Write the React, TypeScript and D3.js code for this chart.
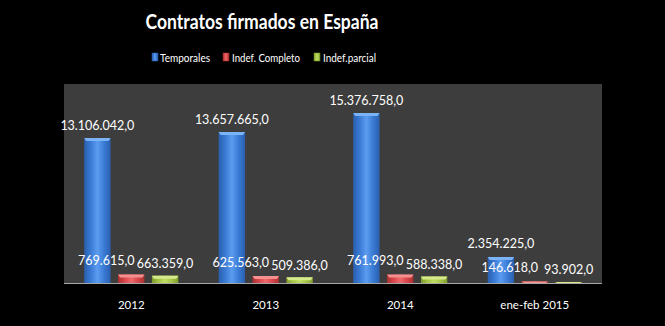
import React from "react";
import * as d3 from "d3";

const categories = ["2012", "2013", "2014", "ene-feb 2015"];
const seriesNames = ["Temporales", "Indef. Completo", "Indef.parcial"];
const temporales = [13106042, 13657665, 15376758, 2354225];
const indefCompleto = [769615, 625563, 761993, 146618];
const indefParcial = [663359, 509386, 588338, 93902];
const seriesValues = [temporales, indefCompleto, indefParcial];

const colors = [
  { base: "#3a7bd5", light: "#5c9cf0", dark: "#2a5fae", top: "#7ab4f7" },
  { base: "#d9474b", light: "#ee6a6c", dark: "#a8302f", top: "#f4908f" },
  { base: "#a5c645", light: "#c1dd64", dark: "#7e9a2c", top: "#d6ea8c" },
];

const W = 665;
const H = 326;
const plot = { left: 64, right: 602, top: 84, bottom: 283 };

const locale = d3.formatLocale({ decimal: ",", thousands: ".", grouping: [3], currency: ["", "€"] });
const fmt = locale.format(",.1f");

const FONT = "Lato, 'Liberation Sans', sans-serif";

export default function App() {
  const x0 = d3
    .scaleBand<string>()
    .domain(categories)
    .range([plot.left, plot.right])
    .paddingInner(0.3)
    .paddingOuter(0.15);
  const x1 = d3
    .scaleBand<number>()
    .domain([0, 1, 2])
    .range([0, x0.bandwidth()])
    .paddingInner(0.22)
    .paddingOuter(0);
  const y = d3.scaleLinear().domain([0, 18000000]).range([plot.bottom, plot.top]);

  const legendItems = [
    { sq: 152, tx: 160, w: 50 },
    { sq: 223, tx: 232, w: 68 },
    { sq: 314, tx: 323, w: 53 },
  ];

  const labelDx = [0, -25, 0];
  const labelDy = [-13, -14, -12];

  return (
    <svg width={W} height={H} style={{ position: "absolute", left: 0, top: 0, display: "block" }}>
      <defs>
        {colors.map((c, i) => (
          <linearGradient key={i} id={`g${i}`} x1="0" x2="1" y1="0" y2="0">
            <stop offset="0%" stopColor={c.dark} />
            <stop offset="25%" stopColor={c.base} />
            <stop offset="50%" stopColor={c.light} />
            <stop offset="75%" stopColor={c.base} />
            <stop offset="100%" stopColor={c.dark} />
          </linearGradient>
        ))}
      </defs>
      <rect x={0} y={0} width={W} height={H} fill="#000" />
      <rect
        x={plot.left}
        y={plot.top}
        width={plot.right - plot.left}
        height={plot.bottom - plot.top}
        fill="#3d3d3d"
      />
      <text
        x={262}
        y={29}
        textAnchor="middle"
        fill="#fff"
        fontFamily={FONT}
        fontWeight="bold"
        fontSize={21}
        textLength={233}
        lengthAdjust="spacingAndGlyphs"
      >
        Contratos firmados en España
      </text>
      {seriesNames.map((name, i) => (
        <g key={name}>
          <rect x={legendItems[i].sq} y={53} width={6} height={8} fill={`url(#g${i})`} stroke={colors[i].dark} strokeWidth={0.5} />
          <text
            x={legendItems[i].tx}
            y={61.5}
            fill="#fff"
            fontFamily={FONT}
            fontSize={12}
            textLength={legendItems[i].w}
            lengthAdjust="spacingAndGlyphs"
          >
            {name}
          </text>
        </g>
      ))}
      {categories.map((cat, ci) => (
        <g key={cat}>
          {seriesValues.map((vals, si) => {
            const bx = (x0(cat) as number) + (x1(si) as number);
            const bw = x1.bandwidth();
            const by = y(vals[ci]);
            const bh = plot.bottom - by;
            const bevel = Math.min(3, bh);
            return (
              <g key={si}>
                <rect x={bx} y={by} width={bw} height={bh} fill={`url(#g${si})`} />
                <path
                  d={`M${bx},${by} L${bx + bw},${by} L${bx + bw - 2},${by + bevel} L${bx + 2},${by + bevel} Z`}
                  fill={colors[si].top}
                />
              </g>
            );
          })}
        </g>
      ))}
      <line x1={plot.left} x2={plot.right} y1={plot.bottom + 0.5} y2={plot.bottom + 0.5} stroke="#a6a6a6" strokeWidth={1} />
      {categories.map((cat, ci) => (
        <g key={"l" + cat}>
          {seriesValues.map((vals, si) => {
            const bx = (x0(cat) as number) + (x1(si) as number) + x1.bandwidth() / 2;
            const by = y(vals[ci]);
            return (
              <text
                key={si}
                x={bx + labelDx[si]}
                y={by + labelDy[si]}
                dominantBaseline="central"
                textAnchor="middle"
                fill="#fff"
                fontFamily={FONT}
                fontSize={12.5}
              >
                {fmt(vals[ci])}
              </text>
            );
          })}
          <text
            x={(x0(cat) as number) + x0.bandwidth() / 2}
            y={304}
            dominantBaseline="central"
            textAnchor="middle"
            fill="#fff"
            fontFamily={FONT}
            fontSize={11.5}
          >
            {cat}
          </text>
        </g>
      ))}
    </svg>
  );
}
